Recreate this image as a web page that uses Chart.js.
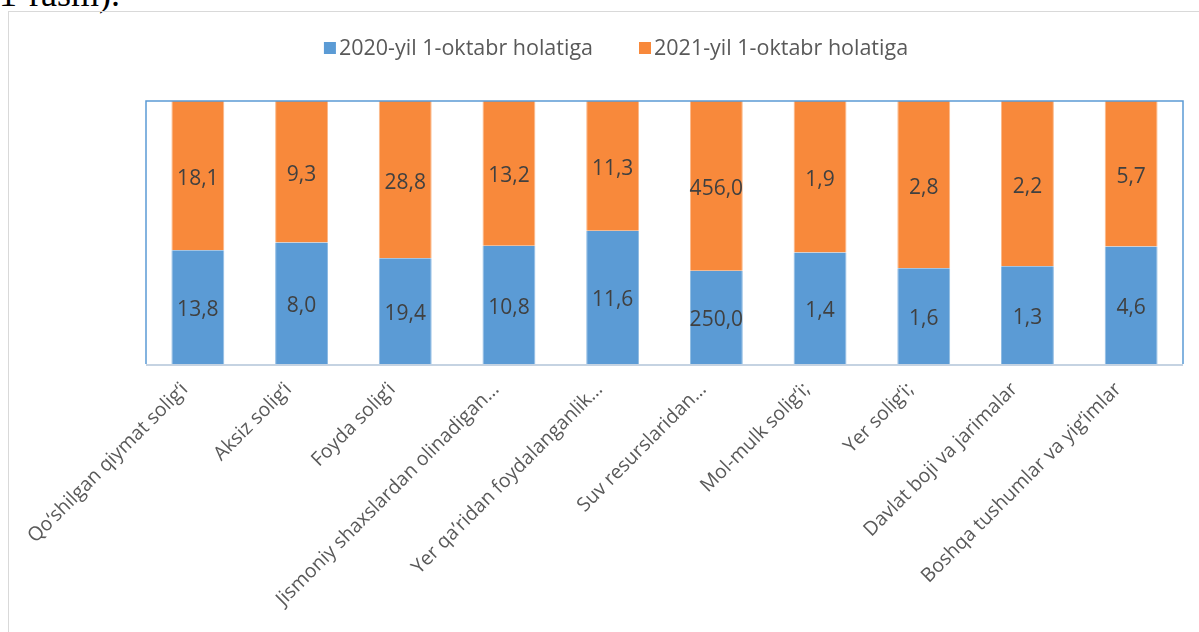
<!DOCTYPE html>
<html>
<head>
<meta charset="utf-8">
<script src="https://cdn.jsdelivr.net/npm/chart.js@4/dist/chart.umd.min.js"></script>
<style>
  html, body { margin: 0; padding: 0; background: #fff; overflow: hidden; }
  body { width: 1199px; height: 632px; position: relative; }
  #caption { position: absolute; left: -1px; top: -24px; font-family: "Liberation Serif", serif; font-size: 36px; line-height: 36px; color: #000; white-space: nowrap; }
  #frame { position: absolute; left: 8px; top: 11px; width: 1200px; height: 640px; border: 1px solid #d9d9d9; }
  #wrap { position: absolute; left: 9px; top: 12px; width: 1190px; height: 620px; }
</style>
</head>
<body>
<div id="caption">1-rasm).</div>
<div id="frame"></div>
<div id="wrap"><canvas id="c" width="1190" height="620"></canvas></div>
<script>
const categories = [
  "Qo‘shilgan qiymat solig‘i",
  "Aksiz solig‘i",
  "Foyda solig‘i",
  "Jismoniy shaxslardan olinadigan…",
  "Yer qa’ridan foydalanganlik…",
  "Suv resurslaridan…",
  "Mol-mulk solig‘i;",
  "Yer solig‘i;",
  "Davlat boji va jarimalar",
  "Boshqa tushumlar va yig‘imlar"
];
const values2020 = [13.8, 8.0, 19.4, 10.8, 11.6, 250.0, 1.4, 1.6, 1.3, 4.6];
const values2021 = [18.1, 9.3, 28.8, 13.2, 11.3, 456.0, 1.9, 2.8, 2.2, 5.7];
const seriesNames = ["2020-yil 1-oktabr holatiga", "2021-yil 1-oktabr holatiga"];
const colors = ["#5b9bd5", "#f8893b"];

const totals = values2020.map((v, i) => v + values2021[i]);
const pct2020 = values2020.map((v, i) => v / totals[i] * 100);
const pct2021 = values2021.map((v, i) => v / totals[i] * 100);
const raw = [values2020, values2021];

const fmt = v => v.toFixed(1).replace('.', ',');

const labelPlugin = {
  id: 'segLabels',
  afterDatasetsDraw(chart) {
    const ctx = chart.ctx;
    ctx.save();
    ctx.font = '21px "Open Sans", sans-serif';
    ctx.fillStyle = '#404040';
    ctx.textAlign = 'center';
    ctx.textBaseline = 'middle';
    chart.data.datasets.forEach((ds, di) => {
      const meta = chart.getDatasetMeta(di);
      meta.data.forEach((bar, i) => {
        const y = (bar.y + bar.base) / 2 + 3;
        ctx.fillText(fmt(raw[di][i]), bar.x, y);
      });
    });
    ctx.restore();
  }
};

const framePlugin = {
  id: 'plotFrame',
  afterDraw(chart) {
    const a = chart.chartArea, ctx = chart.ctx;
    ctx.save();
    ctx.strokeStyle = '#5b9bd5';
    ctx.lineWidth = 1.5;
    ctx.beginPath();
    ctx.moveTo(a.left, a.bottom);
    ctx.lineTo(a.left, a.top);
    ctx.lineTo(a.right, a.top);
    ctx.lineTo(a.right, a.bottom);
    ctx.stroke();
    ctx.strokeStyle = '#c5d3e2';
    ctx.lineWidth = 2;
    ctx.beginPath();
    ctx.moveTo(a.left, a.bottom + 1);
    ctx.lineTo(a.right, a.bottom + 1);
    ctx.stroke();
    ctx.restore();
  }
};

const legendPlugin = {
  id: 'customLegend',
  afterDraw(chart) {
    const ctx = chart.ctx;
    ctx.save();
    ctx.font = '21.5px "Open Sans", sans-serif';
    ctx.textBaseline = 'middle';
    ctx.textAlign = 'left';
    const box = 12, gapBox = 3, gapItem = 46;
    const widths = chart.data.datasets.map(d => box + gapBox + ctx.measureText(d.label).width);
    const total = widths.reduce((s, w) => s + w, 0) + gapItem * (widths.length - 1);
    let x = 607 - total / 2;
    const y = 36;
    chart.data.datasets.forEach((d, i) => {
      ctx.fillStyle = d.backgroundColor;
      ctx.fillRect(x, y - box / 2, box, box);
      ctx.fillStyle = '#595959';
      ctx.fillText(d.label, x + box + gapBox, y + 1);
      x += widths[i] + gapItem;
    });
    ctx.restore();
  }
};

new Chart(document.getElementById('c'), {
  type: 'bar',
  data: {
    labels: categories,
    datasets: [
      { label: seriesNames[0], data: pct2020, backgroundColor: colors[0], borderColor: '#8fbbe3', borderWidth: {left:1,right:1,top:0,bottom:0}, borderSkipped: false, barPercentage: 0.51, categoryPercentage: 1 },
      { label: seriesNames[1], data: pct2021, backgroundColor: colors[1], borderColor: '#fbb98a', borderWidth: {left:1,right:1,top:0,bottom:0}, borderSkipped: false, barPercentage: 0.51, categoryPercentage: 1 }
    ]
  },
  options: {
    responsive: false,
    animation: false,
    layout: { padding: { left: 137, right: 16, top: 89, bottom: 0 } },
    plugins: { legend: { display: false }, tooltip: { enabled: false } },
    scales: {
      x: {
        stacked: true,
        grid: { display: false, drawTicks: false },
        border: { display: false },
        ticks: {
          minRotation: 45, maxRotation: 45, autoSkip: false,
          color: '#595959', font: { family: '"Open Sans", sans-serif', size: 19.5 },
          padding: 14, labelOffset: -13
        },
        afterFit(scale) { scale.height = 268; scale.paddingLeft = 0; scale.paddingRight = 0; }
      },
      y: {
        stacked: true, display: false, min: 0, max: 100
      }
    }
  },
  plugins: [labelPlugin, framePlugin, legendPlugin]
});
</script>
</body>
</html>
